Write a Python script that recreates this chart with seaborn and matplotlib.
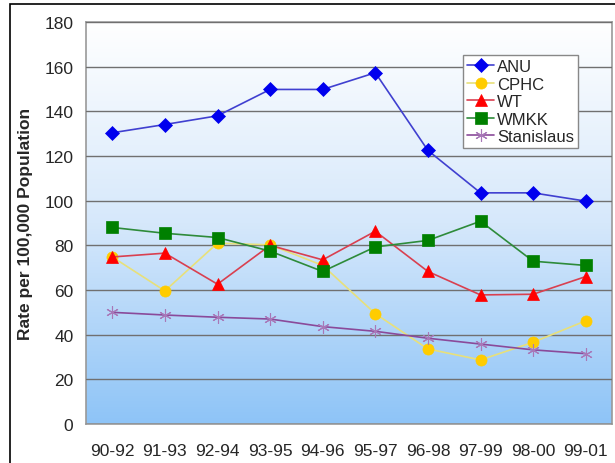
"""Rate per 100,000 population by three-year period, five groups"""

import numpy as np
import pandas as pd
import matplotlib.pyplot as plt
from matplotlib.patches import Rectangle
from matplotlib.colors import LinearSegmentedColormap
import seaborn as sns

periods = ["90-92", "91-93", "92-94", "93-95", "94-96",
           "95-97", "96-98", "97-99", "98-00", "99-01"]

anu = [130.4, 134.1, 138.0, 149.8, 149.8, 157.3, 122.5, 103.5, 103.5, 99.8]
cphc = [74.8, 59.6, 81.0, 80.2, 71.0, 49.4, 33.6, 28.7, 36.6, 46.2]
wt = [74.8, 76.5, 62.6, 80.0, 73.5, 86.3, 68.3, 57.8, 58.1, 66.0]
wmkk = [88.0, 85.4, 83.5, 77.4, 68.3, 79.3, 82.2, 90.8, 72.9, 71.0]
stanislaus = [50.0, 48.8, 47.8, 47.0, 43.6, 41.5, 38.4, 35.8, 33.2, 31.5]

series = {"ANU": anu, "CPHC": cphc, "WT": wt, "WMKK": wmkk, "Stanislaus": stanislaus}

# line colour, marker, marker colour, marker size
styles = {
    "ANU": ("#4040d0", "D", "#0000ee", 7),
    "CPHC": ("#e8e07a", "o", "#ffcc00", 8),
    "WT": ("#d94050", "^", "#ff0000", 8),
    "WMKK": ("#2e8b3a", "s", "#008000", 8),
    "Stanislaus": ("#8a4a9a", (6, 2, 0), "#a878b8", 9),
}

df = pd.DataFrame({"period": periods, **series})

sns.set_style("white")
plt.rcParams["font.family"] = ["Liberation Sans", "DejaVu Sans"]

fig = plt.figure(figsize=(6.15, 4.64), dpi=100)
ax = fig.add_axes([86 / 615, 1 - 425 / 464, (612 - 86) / 615, (425 - 23) / 464])

# gradient background: white at top, light blue at bottom
cmap = LinearSegmentedColormap.from_list("bg", ["#ffffff", "#d6e8fb", "#8ec4f7"])
grad = np.linspace(0, 1, 256).reshape(-1, 1)
ax.imshow(grad, cmap=cmap, aspect="auto", extent=[0, 1, 0, 1],
          transform=ax.transAxes, zorder=0)

for name in series:
    lc, mk, mc, ms = styles[name]
    sns.lineplot(
        data=df, x="period", y=name, ax=ax,
        color=lc, lw=1.2, marker=mk, markersize=ms,
        markerfacecolor=mc, markeredgecolor=mc,
        markeredgewidth=0.8 if name == "Stanislaus" else 0.5,
        label=name, zorder=3,
    )

ax.set_xlim(-0.5, len(periods) - 0.5)
ax.set_ylim(0, 180)
ax.set_yticks(range(0, 181, 20))
ax.set_xticks(np.arange(len(periods)))
ax.set_xticklabels(periods)
ax.set_xticks(np.arange(-0.5, len(periods), 1), minor=True)
ax.tick_params(axis="x", which="major", length=0, pad=14, labelsize=12.5)
ax.tick_params(axis="x", which="minor", length=5, color="#888888", direction="out")
ax.tick_params(axis="y", length=5, color="#888888", direction="out", labelsize=12.5, pad=4)
ax.set_xlabel("")
ax.set_ylabel("Rate per 100,000 Population", fontsize=12.5, fontweight="bold", labelpad=8)

ax.grid(axis="y", color="#707070", lw=1.0)
ax.set_axisbelow(False)
for gl in ax.get_ygridlines():
    gl.set_zorder(1)
for sp in ax.spines.values():
    sp.set_color("#999999")
    sp.set_linewidth(1.2)

leg = ax.legend(
    loc="upper left", bbox_to_anchor=((463 - 86) / 526, 1 - (56 - 23) / 402),
    frameon=True, fancybox=False, edgecolor="#888888", framealpha=1,
    fontsize=12, handlelength=1.6, handletextpad=0.2, labelspacing=0.15,
    borderpad=0.25, borderaxespad=0,
)
leg.get_frame().set_linewidth(1.0)

# outer frame of the original figure
fig.patches.append(Rectangle((10 / 615, -0.1), 1.2, 1 - 5 / 464 + 0.1,
                             transform=fig.transFigure, fill=False,
                             edgecolor="black", lw=1.2, zorder=10))

plt.savefig("out.png", dpi=100)
